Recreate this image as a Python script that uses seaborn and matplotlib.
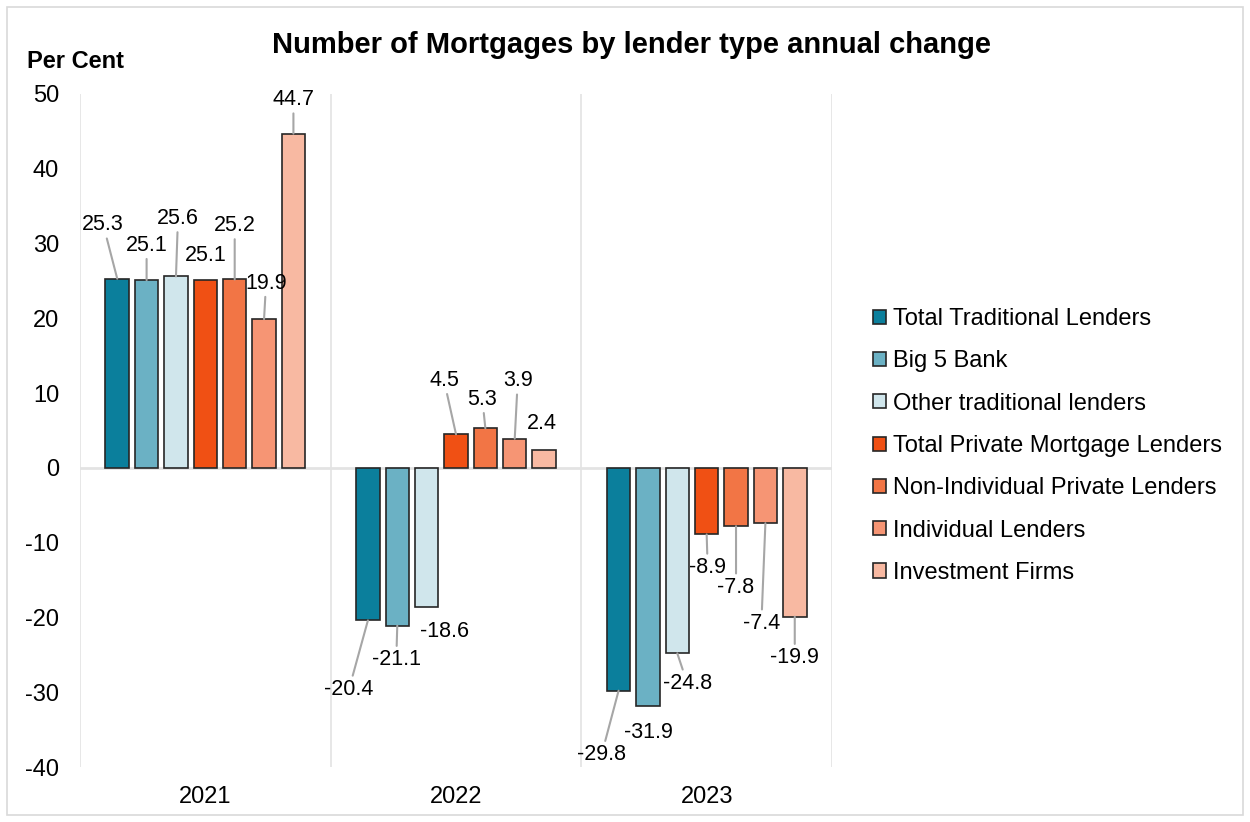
import matplotlib
matplotlib.use("Agg")
import matplotlib.pyplot as plt
from matplotlib.patches import Rectangle
import seaborn as sns
import pandas as pd

# ---- data ----
years = ["2021", "2022", "2023"]
lenders = [
    "Total Traditional Lenders",
    "Big 5 Bank",
    "Other traditional lenders",
    "Total Private Mortgage Lenders",
    "Non-Individual Private Lenders",
    "Individual Lenders",
    "Investment Firms",
]
total_traditional = [25.3, -20.4, -29.8]
big5_bank = [25.1, -21.1, -31.9]
other_traditional = [25.6, -18.6, -24.8]
total_private = [25.1, 4.5, -8.9]
non_individual_private = [25.2, 5.3, -7.8]
individual_lenders = [19.9, 3.9, -7.4]
investment_firms = [44.7, 2.4, -19.9]
yticks = [-40, -30, -20, -10, 0, 10, 20, 30, 40, 50]

series = [total_traditional, big5_bank, other_traditional, total_private,
          non_individual_private, individual_lenders, investment_firms]

# ---- styling ----
colors = ["#0B7F9C", "#6BB1C4", "#D0E6EC", "#F05014", "#F27545", "#F69574", "#F8B9A2"]

# label offsets (pixels, text centre relative to bar end) and leader-line flags
label_offsets = [
    [(-14, 54), (-19, -69), (-17, -64)],
    [(0, 35), (-1, -34), (0, -26)],
    [(2, 58), (18, -25), (10, -30)],
    [(0, 25), (-12, 54), (1, -33)],
    [(0, 54), (-3, 29), (0, -61)],
    [(2, 36), (3, 58), (-4, -100)],
    [(0, 34), (-2, 26), (0, -41)],
]
leaders = [
    [True, True, True],
    [True, True, False],
    [True, False, True],
    [False, True, True],
    [True, True, True],
    [True, True, True],
    [True, False, True],
]

rows = []
for name, vals in zip(lenders, series):
    for y, v in zip(years, vals):
        rows.append({"year": y, "lender": name, "value": v})
df = pd.DataFrame(rows)

sns.set_theme(style="white")
plt.rcParams["font.family"] = ["Liberation Sans", "DejaVu Sans"]
plt.rcParams["text.color"] = "black"

fig = plt.figure(figsize=(12.5, 8.22), dpi=100)
ax = fig.add_axes([80 / 1250, 1 - 767 / 822, (832 - 80) / 1250, (767 - 94) / 822])

sns.barplot(data=df, x="year", y="value", hue="lender", hue_order=lenders,
            order=years, palette=colors, saturation=1, width=0.82, gap=0.2,
            edgecolor="#262626", linewidth=1.2, ax=ax, zorder=3)

ax.set_xlim(-0.5, 2.5)
ax.set_ylim(-40, 50)
ax.set_yticks(yticks)
ax.set_yticklabels([str(t) for t in yticks])
ax.set_xlabel("")
ax.set_ylabel("")
for s in ax.spines.values():
    s.set_visible(False)
ax.tick_params(axis="both", length=0, labelsize=17, colors="black")
ax.tick_params(axis="y", pad=15)
ax.tick_params(axis="x", pad=14)
for xv in [-0.5, 0.5, 1.5, 2.5]:
    ax.axvline(xv, color="#E3E3E3", lw=1.2, zorder=1)
ax.axhline(0, color="#E3E3E3", lw=2, zorder=2)

# data labels with leader lines
for i, cont in enumerate(ax.containers):
    for j, bar in enumerate(cont.patches):
        v = series[i][j]
        xb = bar.get_x() + bar.get_width() / 2
        dx, dy = label_offsets[i][j]
        kw = {}
        if leaders[i][j]:
            kw["arrowprops"] = dict(arrowstyle="-", color="#A6A6A6", lw=1.5,
                                    shrinkA=0, shrinkB=0)
        ax.annotate(f"{v:.1f}", xy=(xb, v), xytext=(dx, dy),
                    textcoords="offset pixels", ha="center", va="center",
                    fontsize=15.5, color="black", zorder=5, **kw)

sns.move_legend(ax, "center left", bbox_to_anchor=(852 / 1250, 1 - 446 / 822),
                bbox_transform=fig.transFigure, frameon=False, title=None,
                fontsize=17, labelspacing=0.86, handlelength=0.55,
                handleheight=0.55, handletextpad=0.3)
for t in ax.get_legend().get_texts():
    t.set_color("black")

fig.text(0.505, 1 - 45 / 822, "Number of Mortgages by lender type annual change",
         ha="center", va="center", fontsize=21, fontweight="bold", color="black")
fig.text(27 / 1250, 1 - 61 / 822, "Per Cent", ha="left", va="center",
         fontsize=17, fontweight="bold", color="black")

fig.patches.append(Rectangle((7 / 1250, 7 / 822), 1 - 14 / 1250, 1 - 14 / 822,
                             transform=fig.transFigure, fill=False,
                             edgecolor="#D9D9D9", lw=1.2))

fig.savefig("out.png", dpi=100)
